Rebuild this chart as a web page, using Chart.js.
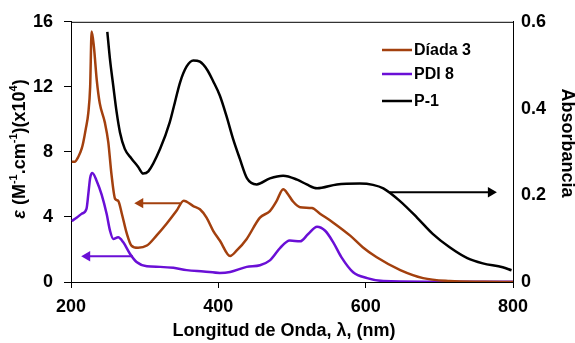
<!DOCTYPE html>
<html>
<head>
<meta charset="utf-8">
<script src="https://cdn.jsdelivr.net/npm/chart.js@4.4.1/dist/chart.umd.min.js"></script>
<style>
  html, body { margin: 0; padding: 0; background: #fff; }
  #wrap { width: 575px; height: 343px; }
</style>
</head>
<body>
<div id="wrap"><canvas id="spectra" width="575" height="343"></canvas></div>
<script>
// Díada 3 (eje izquierdo, x10^4)
const diadaWl = [201, 205, 210, 214.5, 216.7, 220, 223.5, 226, 228, 231, 235, 239, 246, 250.6, 255, 260, 264, 269, 275.6, 282, 291, 303, 316, 330, 343, 353, 366, 375, 384, 393, 402, 416, 425, 438.5, 456.5, 470, 479, 488, 495, 501, 511, 527, 538, 556, 579, 596, 615, 647, 678, 714, 760, 800];
const diadaEps = [7.4, 7.4, 7.7, 8.2, 8.6, 9.4, 10.4, 12.0, 15.4, 14.5, 12.4, 11.0, 9.8, 8.6, 6.6, 5.1, 5.0, 4.2, 3.0, 2.24, 2.1, 2.24, 2.85, 3.6, 4.36, 5.0, 4.67, 4.47, 3.96, 3.15, 2.55, 1.6, 1.94, 2.65, 3.96, 4.36, 4.97, 5.7, 5.37, 4.97, 4.6, 4.55, 4.2, 3.65, 2.85, 2.14, 1.52, 0.73, 0.24, 0.06, 0.01, 0];

// PDI 8 (eje izquierdo)
const pdiWl = [201, 208, 214.5, 221, 223.5, 226, 229, 235, 241.6, 248.5, 253, 257.4, 264, 271, 280, 289, 303, 321, 339, 357, 380, 402, 416, 438.5, 456.5, 470, 484, 497, 511, 522, 534, 545, 556, 567, 583, 602, 624, 680, 800];
const pdiEps = [3.75, 3.96, 4.2, 4.5, 5.4, 6.4, 6.7, 6.2, 5.37, 4.16, 3.15, 2.65, 2.75, 2.44, 1.74, 1.23, 0.97, 0.93, 0.87, 0.73, 0.65, 0.56, 0.62, 0.93, 1.03, 1.33, 2.1, 2.55, 2.5, 2.95, 3.4, 3.15, 2.44, 1.53, 0.6, 0.24, 0.06, 0.02, 0.02];

// P-1 (eje derecho, absorbancia)
const p1Wl = [249.3, 253, 257.4, 262, 266.5, 273, 282, 291, 298, 305, 321, 334, 341, 348, 357, 366, 375, 385, 393, 402, 411, 420, 429, 439, 452, 470, 488, 507, 520, 534, 561, 592, 610, 624, 647, 670, 691, 714, 738, 759, 786, 798];
const p1Abs = [0.577, 0.512, 0.452, 0.391, 0.345, 0.307, 0.285, 0.266, 0.25, 0.255, 0.307, 0.368, 0.414, 0.46, 0.497, 0.511, 0.508, 0.489, 0.463, 0.43, 0.383, 0.33, 0.285, 0.239, 0.225, 0.239, 0.245, 0.236, 0.225, 0.216, 0.225, 0.227, 0.224, 0.216, 0.186, 0.148, 0.111, 0.08, 0.055, 0.043, 0.034, 0.027];

// flechas: [inicio, punta] en nm, y nivel
const arrowDiadaX = [348, 294];
const arrowDiadaY = 4.85;
const arrowPdiX = [284, 222];
const arrowPdiY = 1.58;
const arrowP1X = [633, 770];
const arrowP1Y = 0.207;

const xTicks = [200, 400, 600, 800];
const yTicks = [0, 4, 8, 12, 16];
const y1Ticks = [0, 0.2, 0.4, 0.6];

const legendNames = ["Díada 3", "PDI 8", "P-1"];
const colors = ["#A3400E", "#6A0FD6", "#000000"];

const FONT = "'Liberation Sans', Arial, sans-serif";

function toPoints(xs, ys) {
  return xs.map((x, i) => ({ x: x, y: ys[i] }));
}

function arrow(xs, y, color, axis) {
  return {
    data: toPoints(xs, [y, y]),
    yAxisID: axis,
    borderColor: color,
    backgroundColor: color,
    borderWidth: 2,
    pointRadius: [0, 6],
    pointStyle: "triangle",
    rotation: [0, xs[1] < xs[0] ? -90 : 90],
    pointBorderWidth: 0,
    isArrow: true,
  };
}

// rich text with superscripts, rotated
function drawRich(ctx, parts, cx, cy, rot) {
  ctx.save();
  let w = 0;
  parts.forEach((p) => {
    ctx.font = p.font;
    p.w = ctx.measureText(p.t).width;
    w += p.w;
  });
  ctx.translate(cx, cy);
  ctx.rotate(rot);
  ctx.fillStyle = "#000";
  ctx.textBaseline = "middle";
  ctx.textAlign = "left";
  let x = -w / 2;
  parts.forEach((p) => {
    ctx.font = p.font;
    ctx.fillText(p.t, x, p.dy || 0);
    x += p.w;
  });
  ctx.restore();
}

const decor = {
  id: "decor",
  afterDraw(chart) {
    const ctx = chart.ctx;
    const a = chart.chartArea;

    // top border of the box
    ctx.save();
    ctx.strokeStyle = "#000";
    ctx.lineWidth = 1;
    ctx.beginPath();
    ctx.moveTo(a.left, a.top + 0.5);
    ctx.lineTo(a.right, a.top + 0.5);
    ctx.stroke();
    ctx.restore();

    // legend
    ctx.save();
    const lx = 382, ly = [50, 74, 101];
    legendNames.forEach((name, i) => {
      ctx.strokeStyle = colors[i];
      ctx.lineWidth = 2.5;
      ctx.beginPath();
      ctx.moveTo(lx, ly[i]);
      ctx.lineTo(lx + 30, ly[i]);
      ctx.stroke();
      ctx.fillStyle = "#000";
      ctx.font = "bold 16px " + FONT;
      ctx.textBaseline = "middle";
      ctx.fillText(name, lx + 32, ly[i] + 1);
    });
    ctx.restore();

    // axis titles
    const b = "bold 18px " + FONT;
    const s = "bold 11px " + FONT;
    drawRich(ctx, [{ t: "Longitud de Onda, λ, (nm)", font: b }], 284, 331, 0);
    drawRich(ctx, [
      { t: "ε", font: "italic bold 18px " + FONT },
      { t: " (M", font: b },
      { t: "-1", font: s, dy: -6 },
      { t: ".cm", font: b },
      { t: "-1", font: s, dy: -6 },
      { t: ")(x10", font: b },
      { t: "4", font: s, dy: -6 },
      { t: ")", font: b },
    ], 20, 149, -Math.PI / 2);
    drawRich(ctx, [{ t: "Absorbancia", font: b }], 567, 143, Math.PI / 2);
  },
};

const tickFont = { family: FONT, size: 18, weight: "bold" };

new Chart(document.getElementById("spectra").getContext("2d"), {
  type: "line",
  data: {
    datasets: [
      {
        label: legendNames[0],
        data: toPoints(diadaWl, diadaEps),
        yAxisID: "y",
        borderColor: colors[0],
        borderWidth: 2.5,
        pointRadius: 0,
        cubicInterpolationMode: "monotone",
      },
      {
        label: legendNames[1],
        data: toPoints(pdiWl, pdiEps),
        yAxisID: "y",
        borderColor: colors[1],
        borderWidth: 2.5,
        pointRadius: 0,
        cubicInterpolationMode: "monotone",
      },
      {
        label: legendNames[2],
        data: toPoints(p1Wl, p1Abs),
        yAxisID: "y1",
        borderColor: colors[2],
        borderWidth: 2.5,
        pointRadius: 0,
        cubicInterpolationMode: "monotone",
      },
      arrow(arrowDiadaX, arrowDiadaY, colors[0], "y"),
      arrow(arrowPdiX, arrowPdiY, colors[1], "y"),
      arrow(arrowP1X, arrowP1Y, colors[2], "y1"),
    ],
  },
  options: {
    responsive: false,
    animation: false,
    layout: { padding: { top: 18, left: 0, right: 0, bottom: 0 } },
    plugins: { legend: { display: false }, tooltip: { enabled: false } },
    scales: {
      x: {
        type: "linear",
        min: 200,
        max: 800,
        afterBuildTicks: (sc) => { sc.ticks = xTicks.map((v) => ({ value: v })); },
        afterFit: (sc) => { sc.height = 61; },
        grid: { drawOnChartArea: false, drawTicks: true, tickLength: 6, color: "#000" },
        border: { display: true, color: "#000", width: 1 },
        ticks: { font: tickFont, color: "#000", padding: 8, maxRotation: 0 },
      },
      y: {
        position: "left",
        min: 0,
        max: 16,
        afterBuildTicks: (sc) => { sc.ticks = yTicks.map((v) => ({ value: v })); },
        afterFit: (sc) => { sc.width = 71; },
        grid: { drawOnChartArea: false, drawTicks: true, tickLength: 7, color: "#000" },
        border: { display: true, color: "#000", width: 1 },
        ticks: { font: tickFont, color: "#000", padding: 11 },
      },
      y1: {
        position: "right",
        min: 0,
        max: 0.6,
        afterBuildTicks: (sc) => { sc.ticks = y1Ticks.map((v) => ({ value: v })); },
        afterFit: (sc) => { sc.width = 62; },
        grid: { drawOnChartArea: false, drawTicks: false, color: "#000" },
        border: { display: true, color: "#000", width: 1 },
        ticks: { font: tickFont, color: "#000", padding: 8, callback: (v) => String(v) },
      },
    },
  },
  plugins: [decor],
});
</script>
</body>
</html>
